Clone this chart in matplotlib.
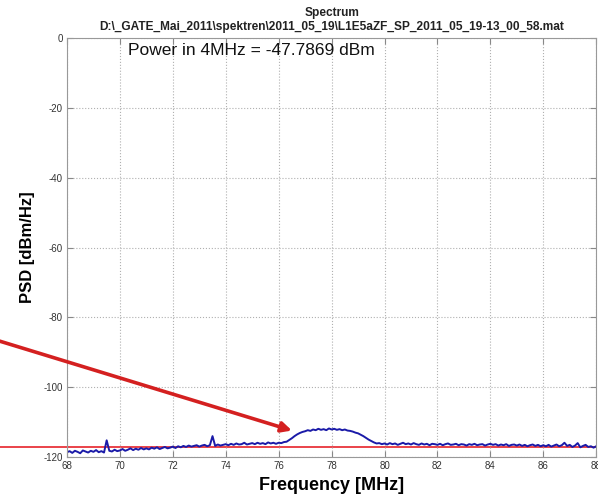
import numpy as np
import matplotlib
matplotlib.use('Agg')
import matplotlib.pyplot as plt

plt.rcParams['font.family'] = ['Liberation Sans', 'DejaVu Sans']
plt.rcParams['axes.unicode_minus'] = False

# measured PSD trace, 0.1 MHz steps from 68 to 88 MHz
freq = np.linspace(68, 88, 201)
psd = [
    -118.6, -118.3, -118.8, -118.2, -118.5, -118.9, -118.1, -118.4, -118.7, -118.2,
    -118.5, -118.0, -118.6, -118.3, -118.7, -115.2, -118.2, -118.4, -117.9, -118.3,
    -118.1, -117.7, -118.2, -117.9, -117.5, -118.0, -117.6, -117.9, -117.4, -117.8,
    -117.5, -117.8, -117.3, -117.6, -117.2, -117.7, -117.4, -117.1, -117.5, -117.3,
    -117.0, -117.4, -116.9, -117.2, -116.8, -117.1, -116.7, -117.0, -116.8, -116.6,
    -117.0, -116.7, -116.5, -116.9, -116.6, -114.0, -116.8, -116.4, -116.7, -116.5,
    -116.3, -116.6, -116.2, -116.5, -116.1, -116.4, -116.3, -115.9, -116.4, -116.2,
    -116.0, -116.3, -115.9, -116.2, -116.0, -116.3, -115.8, -116.1, -115.9, -116.2,
    -115.9, -116.0, -115.7, -115.6, -115.1, -114.6, -114.0, -113.5, -113.1, -112.8,
    -112.6, -112.3, -112.5, -112.1, -112.3, -111.9, -112.2, -112.0, -112.3, -111.8,
    -112.1, -111.9, -112.2, -112.0, -112.3, -112.1, -112.4, -112.5, -112.7, -113.0,
    -113.2, -113.6, -114.0, -114.5, -115.0, -115.4, -115.8, -116.1, -116.0, -116.3,
    -116.1, -116.4, -116.0, -116.3, -116.1, -116.5, -116.2, -115.9, -116.3, -116.1,
    -116.4, -116.0, -116.3, -116.5, -116.1, -116.4, -116.2, -116.6, -116.2, -116.3,
    -116.5, -116.2, -116.6, -116.3, -116.1, -116.5, -116.4, -116.2, -116.6, -116.3,
    -116.4, -116.7, -116.3, -116.5, -116.2, -116.6, -116.4, -116.3, -116.7, -116.4,
    -116.2, -116.5, -116.3, -116.7, -116.4, -116.6, -116.3, -116.8, -116.5, -116.4,
    -116.7, -116.4, -116.8, -116.5, -116.9, -116.6, -116.4, -116.8, -116.5, -116.9,
    -116.6, -116.9, -116.5, -117.0, -116.7, -116.4, -116.9, -116.6, -115.9, -116.8,
    -116.5, -117.1, -116.7, -116.0, -117.2, -116.8, -116.5, -117.1, -116.9, -117.3,
    -116.9,
]
noise_floor = -117.2
arrow_tip = (76.5, -112.4)
power_text = 'Power in 4MHz = -47.7869 dBm'
title_lines = ['Spectrum',
               r'D:\_GATE_Mai_2011\spektren\2011_05_19\L1E5aZF_SP_2011_05_19-13_00_58.mat']

fig = plt.figure(figsize=(5.98, 4.99), dpi=100)
ax = fig.add_axes([0.112, 0.084, 0.885, 0.840])

ax.plot(freq, psd, color='#1a1aa8', lw=1.4)
ax.axhline(noise_floor, xmin=-0.13, xmax=1.0, color='#e8343a', lw=1.3,
           clip_on=False, zorder=1)

ax.annotate('', xy=arrow_tip, xycoords='data',
            xytext=(-0.005, 0.318), textcoords='figure fraction',
            arrowprops=dict(arrowstyle='-|>', color='#d42020', lw=2.6,
                            mutation_scale=15, shrinkA=0, shrinkB=0),
            annotation_clip=False)

ax.set_xlim(68, 88)
ax.set_ylim(-120, 0)
ax.set_xticks(np.arange(68, 89, 2))
ax.set_yticks(np.arange(-120, 1, 20))
ax.grid(True, linestyle=':', color='#b0b0b0', lw=0.8)
ax.tick_params(direction='in', top=True, right=True, labelsize=7,
               labelcolor='#333333', color='#888888', length=4, pad=3)
for s in ax.spines.values():
    s.set_color('#999999')

ax.text(0.115, 0.988, power_text, transform=ax.transAxes, fontsize=12.5,
        va='top', ha='left', color='#111111')

ax.set_xlabel('Frequency [MHz]', fontsize=13, fontweight='bold', labelpad=4)
ax.set_ylabel('PSD [dBm/Hz]', fontsize=12, fontweight='bold', labelpad=6)
ax.set_title('\n'.join(title_lines), fontsize=8.6, fontweight='bold',
             color='#222222', pad=6, linespacing=1.15)

fig.savefig('out.png', dpi=100)
